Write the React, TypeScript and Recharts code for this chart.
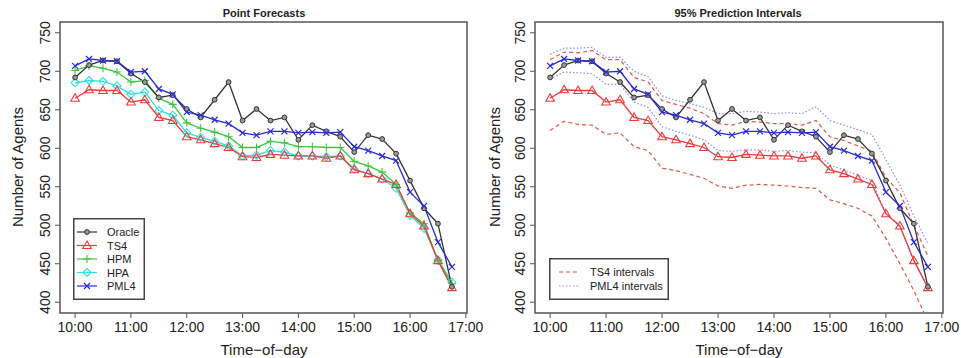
import { LineChart, Line, XAxis, YAxis, ReferenceArea, Legend } from 'recharts';

// time of day in hours, every 15 minutes
const HOURS = [
  10, 10.25, 10.5, 10.75, 11, 11.25, 11.5, 11.75, 12, 12.25, 12.5, 12.75, 13, 13.25,
  13.5, 13.75, 14, 14.25, 14.5, 14.75, 15, 15.25, 15.5, 15.75, 16, 16.25, 16.5, 16.75,
];

const ORACLE = [692, 708, 714, 713, 697, 686, 666, 669, 651, 640, 663, 686, 636, 651, 636, 640, 611, 630, 622, 615, 595, 617, 612, 593, 558, 522, 502, 420];
const TS4 = [665, 676, 675, 675, 660, 663, 640, 636, 615, 611, 606, 601, 589, 588, 592, 591, 590, 590, 587, 590, 572, 567, 560, 553, 515, 499, 454, 419];
const HPM = [701, 707, 704, 699, 686, 688, 665, 657, 633, 626, 621, 615, 601, 601, 609, 607, 602, 602, 601, 601, 583, 577, 569, 553, 516, 502, 454, 424];
const HPA = [685, 688, 687, 681, 670, 673, 649, 643, 620, 614, 609, 603, 590, 591, 597, 595, 590, 590, 589, 590, 573, 567, 560, 548, 513, 496, 455, 426];
const PML4 = [707, 716, 714, 713, 699, 700, 677, 670, 647, 643, 637, 632, 620, 617, 622, 622, 620, 621, 620, 621, 602, 597, 590, 584, 543, 525, 478, 446];

// 95% interval bounds
const TS4_HI = [715, 725, 724, 727, 715, 715, 692, 686, 662, 657, 652, 645, 632, 630, 635, 634, 632, 632, 630, 636, 615, 610, 603, 596, 562, 542, 500, 460];
const TS4_LO = [623, 635, 631, 630, 618, 620, 602, 597, 574, 571, 566, 561, 551, 548, 552, 553, 552, 551, 549, 548, 533, 528, 522, 512, 483, 450, 415, 375];
const PML4_HI = [722, 730, 730, 731, 718, 718, 700, 693, 668, 662, 658, 653, 645, 645, 648, 647, 645, 646, 645, 654, 636, 630, 624, 618, 585, 552, 512, 476];
const PML4_LO = [690, 699, 698, 697, 683, 683, 660, 653, 628, 622, 617, 611, 597, 596, 598, 598, 596, 597, 595, 594, 578, 572, 565, 558, 515, 498, 455, 420];

const X_TICKS = [10, 11, 12, 13, 14, 15, 16, 17];
const Y_TICKS = [400, 450, 500, 550, 600, 650, 700, 750];
const X_DOMAIN = [9.73, 17.02];
const Y_DOMAIN = [386, 764];

const rows = HOURS.map((t, i) => ({
  t,
  oracle: ORACLE[i],
  ts4: TS4[i],
  hpm: HPM[i],
  hpa: HPA[i],
  pml4: PML4[i],
  ts4Hi: TS4_HI[i],
  ts4Lo: TS4_LO[i],
  pmlHi: PML4_HI[i],
  pmlLo: PML4_LO[i],
}));

const C = {
  oracle: '#333333',
  ts4: '#ee3b3b',
  hpm: '#3cc83c',
  hpa: '#2fe0e0',
  pml4: '#2a2ad8',
  ts4Int: '#e2574a',
  pmlInt: '#8c8cf0',
  box: '#555555',
  text: '#222222',
};

const FONT = '"Liberation Sans", Arial, Helvetica, sans-serif';

function Marker({ kind, x, y, color }: { kind: string; x: number; y: number; color: string }) {
  switch (kind) {
    case 'circle':
      return <circle cx={x} cy={y} r={2.4} fill="#999" stroke={color} strokeWidth={1} />;
    case 'triangle':
      return (
        <path
          d={`M${x},${y - 4.5}L${x + 4.3},${y + 3}L${x - 4.3},${y + 3}Z`}
          fill="none"
          stroke={color}
          strokeWidth={1.1}
        />
      );
    case 'plus':
      return (
        <path d={`M${x - 4},${y}H${x + 4}M${x},${y - 4}V${y + 4}`} stroke={color} strokeWidth={1.1} />
      );
    case 'diamond':
      return (
        <path
          d={`M${x},${y - 4}L${x + 4},${y}L${x},${y + 4}L${x - 4},${y}Z`}
          fill="none"
          stroke={color}
          strokeWidth={1.1}
        />
      );
    case 'cross':
      return (
        <path
          d={`M${x - 3},${y - 3}L${x + 3},${y + 3}M${x - 3},${y + 3}L${x + 3},${y - 3}`}
          stroke={color}
          strokeWidth={1.2}
        />
      );
    default:
      return null;
  }
}

const dotOf = (kind: string, color: string) => (p: any) =>
  <Marker key={`m-${kind}-${p.index}`} kind={kind} x={p.cx} y={p.cy} color={color} />;

const XTick = (p: any) => (
  <text x={p.x} y={332} textAnchor="middle" fontSize={14} fill={C.text} fontFamily={FONT}>
    {`${p.payload.value}:00`}
  </text>
);

const yTickAt = (bx: number) => (p: any) => (
  <text
    x={bx}
    y={p.y}
    transform={`rotate(-90, ${bx}, ${p.y})`}
    textAnchor="middle"
    fontSize={14}
    fill={C.text}
    fontFamily={FONT}
  >
    {p.payload.value}
  </text>
);

const LEFT_LEGEND = [
  { label: 'Oracle', kind: 'circle', color: C.oracle },
  { label: 'TS4', kind: 'triangle', color: C.ts4 },
  { label: 'HPM', kind: 'plus', color: C.hpm },
  { label: 'HPA', kind: 'diamond', color: C.hpa },
  { label: 'PML4', kind: 'cross', color: C.pml4 },
];

const RIGHT_LEGEND = [
  { label: 'TS4 intervals', color: C.ts4Int, dash: '4 3' },
  { label: 'PML4 intervals', color: C.pmlInt, dash: '1.5 2' },
];

function LeftLegend() {
  return (
    <svg width={72} height={82} style={{ display: 'block' }}>
      <rect x={0.75} y={0.75} width={70.5} height={80.5} fill="#fff" stroke="#444" strokeWidth={1.5} />
      {LEFT_LEGEND.map((e, i) => {
        const y = 14 + i * 13.5;
        return (
          <g key={e.label}>
            <line x1={4} x2={24} y1={y} y2={y} stroke={e.color} strokeWidth={1.2} />
            <Marker kind={e.kind} x={14} y={y} color={e.color} />
            <text x={34} y={y + 4} fontSize={11} fill={C.text} fontFamily={FONT}>
              {e.label}
            </text>
          </g>
        );
      })}
    </svg>
  );
}

function RightLegend() {
  return (
    <svg width={120} height={42} style={{ display: 'block' }}>
      <rect x={0.75} y={0.75} width={118.5} height={40.5} fill="#fff" stroke="#444" strokeWidth={1.5} />
      {RIGHT_LEGEND.map((e, i) => {
        const y = 14 + i * 14;
        return (
          <g key={e.label}>
            <line x1={10} x2={31} y1={y} y2={y} stroke={e.color} strokeWidth={1.2} strokeDasharray={e.dash} />
            <text x={41} y={y + 4} fontSize={11} fill={C.text} fontFamily={FONT}>
              {e.label}
            </text>
          </g>
        );
      })}
    </svg>
  );
}

function Axes({ plotLeft }: { plotLeft: number }) {
  return [
    <XAxis
      key="x"
      dataKey="t"
      type="number"
      domain={X_DOMAIN}
      ticks={X_TICKS}
      interval={0}
      allowDataOverflow
      axisLine={false}
      tickSize={5}
      tickLine={{ stroke: C.box }}
      height={30}
      tick={XTick}
    />,
    <YAxis
      key="y"
      type="number"
      domain={Y_DOMAIN}
      ticks={Y_TICKS}
      interval={0}
      allowDataOverflow
      axisLine={false}
      tickSize={5}
      tickLine={{ stroke: C.box }}
      width={40}
      tick={yTickAt(plotLeft - 10)}
    />,
  ];
}

const common = { type: 'linear' as const, isAnimationActive: false, activeDot: false as const };

export default function App() {
  return (
    <div style={{ position: 'absolute', left: 0, top: 0, width: 961, height: 358, background: '#fff', fontFamily: FONT }}>
      <div style={{ position: 'absolute', left: 0, top: 0 }}>
        <LineChart width={500} height={358} data={rows} margin={{ top: 22, right: 33, bottom: 15, left: 20 }}>
          {Axes({ plotLeft: 60 })}
          <ReferenceArea x1={X_DOMAIN[0]} x2={X_DOMAIN[1]} y1={Y_DOMAIN[0]} y2={Y_DOMAIN[1]} fill="none" stroke={C.box} strokeWidth={1.5} />
          <Line {...common} dataKey="hpa" stroke={C.hpa} strokeWidth={1.3} dot={dotOf('diamond', C.hpa)} />
          <Line {...common} dataKey="hpm" stroke={C.hpm} strokeWidth={1.3} dot={dotOf('plus', C.hpm)} />
          <Line {...common} dataKey="ts4" stroke={C.ts4} strokeWidth={1.3} dot={dotOf('triangle', C.ts4)} />
          <Line {...common} dataKey="oracle" stroke={C.oracle} strokeWidth={1.3} dot={dotOf('circle', C.oracle)} />
          <Line {...common} dataKey="pml4" stroke={C.pml4} strokeWidth={1.3} dot={dotOf('cross', C.pml4)} />
          <Legend
            layout="vertical"
            align="center"
            verticalAlign="middle"
            content={() => <LeftLegend />}
            wrapperStyle={{ position: 'absolute', left: 73, top: 218, width: 72, height: 82 }}
          />
        </LineChart>
      </div>
      <div style={{ position: 'absolute', left: 480, top: 0 }}>
        <LineChart width={480} height={358} data={rows} margin={{ top: 22, right: 17, bottom: 15, left: 15 }}>
          {Axes({ plotLeft: 55 })}
          <ReferenceArea x1={X_DOMAIN[0]} x2={X_DOMAIN[1]} y1={Y_DOMAIN[0]} y2={Y_DOMAIN[1]} fill="none" stroke={C.box} strokeWidth={1.5} />
          <Line {...common} dataKey="ts4Lo" stroke={C.ts4Int} strokeWidth={1.2} strokeDasharray="4 3" dot={false} />
          <Line {...common} dataKey="ts4Hi" stroke={C.ts4Int} strokeWidth={1.2} strokeDasharray="4 3" dot={false} />
          <Line {...common} dataKey="pmlLo" stroke={C.pmlInt} strokeWidth={1.2} strokeDasharray="1.5 2" dot={false} />
          <Line {...common} dataKey="pmlHi" stroke={C.pmlInt} strokeWidth={1.2} strokeDasharray="1.5 2" dot={false} />
          <Line {...common} dataKey="ts4" stroke={C.ts4} strokeWidth={1.3} dot={dotOf('triangle', C.ts4)} />
          <Line {...common} dataKey="oracle" stroke={C.oracle} strokeWidth={1.3} dot={dotOf('circle', C.oracle)} />
          <Line {...common} dataKey="pml4" stroke={C.pml4} strokeWidth={1.3} dot={dotOf('cross', C.pml4)} />
          <Legend
            layout="vertical"
            align="center"
            verticalAlign="middle"
            content={() => <RightLegend />}
            wrapperStyle={{ position: 'absolute', left: 69, top: 258, width: 120, height: 42 }}
          />
        </LineChart>
      </div>
      {/* titles and axis labels */}
      <svg width={961} height={358} style={{ position: 'absolute', left: 0, top: 0, pointerEvents: 'none' }}>
        <g fontFamily={FONT} fill={C.text}>
          <text x={264} y={17} textAnchor="middle" fontSize={11} fontWeight="bold">Point Forecasts</text>
          <text x={738} y={17} textAnchor="middle" fontSize={11} fontWeight="bold">95% Prediction Intervals</text>
          <text x={264} y={355} textAnchor="middle" fontSize={15}>Time−of−day</text>
          <text x={739} y={355} textAnchor="middle" fontSize={15}>Time−of−day</text>
          <text x={23} y={167} transform="rotate(-90, 23, 167)" textAnchor="middle" fontSize={15}>Number of Agents</text>
          <text x={500} y={167} transform="rotate(-90, 500, 167)" textAnchor="middle" fontSize={15}>Number of Agents</text>
        </g>
      </svg>
    </div>
  );
}
